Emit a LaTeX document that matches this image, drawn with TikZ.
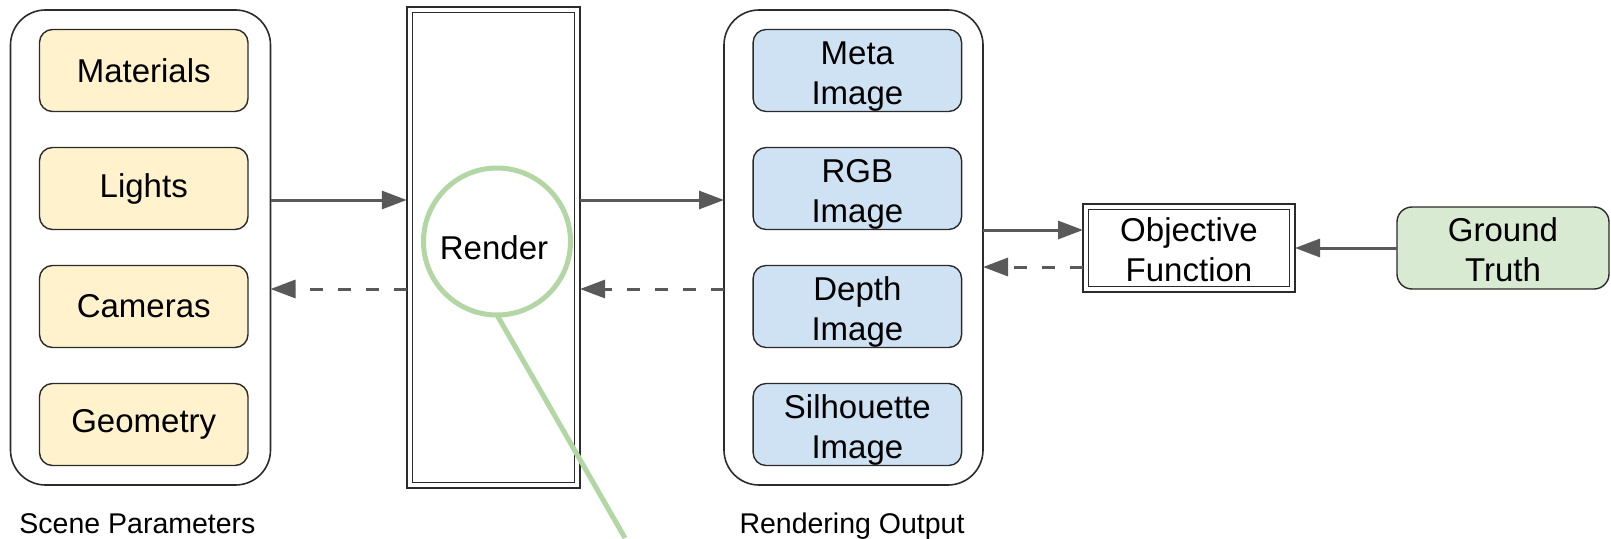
\documentclass[tikz,border=0pt]{standalone}
\usepackage{fontspec}
\setmainfont{Liberation Sans}
\usetikzlibrary{arrows.meta}
\definecolor{boxline}{HTML}{2B2B2B}
\definecolor{arrowgray}{HTML}{595959}
\definecolor{paramfill}{HTML}{FFF2CC}
\definecolor{outfill}{HTML}{CFE2F3}
\definecolor{truthfill}{HTML}{D9EAD3}
\definecolor{lensgreen}{HTML}{B2D6A4}
\newcommand{\firstlift}[1]{\rule{0pt}{#1}}
\begin{document}
\begin{tikzpicture}[x=1pt,y=-1pt,
  container/.style={draw=boxline, line width=1.6pt, rounded corners=35pt,
    minimum width=260pt, minimum height=475pt, inner sep=0pt, outer sep=0pt},
  itembox/.style={draw=boxline, line width=1.4pt, rounded corners=13pt,
    minimum width=208.5pt, minimum height=82pt, inner sep=0pt, outer sep=0pt,
    align=center, font=\fontsize{33}{40}\selectfont},
  param/.style={itembox, fill=paramfill},
  outitem/.style={itembox, fill=outfill},
  dblbox/.style={draw=boxline, line width=1.4pt, double=white, double distance=4pt,
    inner sep=0pt, outer sep=2.75pt, align=center, font=\fontsize{33}{40}\selectfont},
  caption/.style={anchor=base, font=\fontsize{28.5}{34}\selectfont, inner sep=0pt},
  lens/.style={circle, draw=lensgreen, line width=5pt, minimum size=147pt,
    inner sep=0pt, outer sep=0pt},
  lensline/.style={draw=lensgreen, line width=5pt},
  flow/.style={draw=arrowgray, line width=3pt,
    -{Triangle[length=25pt,width=18pt]}},
  flowback/.style={flow, dash pattern=on 13pt off 15pt}
]
\useasboundingbox[fill=white] (0,0) rectangle (1611,538);

% Scene parameters
\node[container] (scene) at (140.5,247.5) {};
\node[param] (mat) at (143.75,70.5) {Materials};
\node[param] (lights) at (143.75,188.5) {Lights};
\node[param] (cams) at (143.75,306.5) {Cameras};
\node[param] (geom) at (143.75,424.5) {Geometry};
\node[caption] (scenelbl) at (137.5,533) {Scene Parameters};

% Render
\node[dblbox, minimum width=167.8pt, minimum height=475.5pt] (render) at (493.4,247.5) {};
\node[lens] (lens) at (497,241.5) {};
\node[font=\fontsize{33}{40}\selectfont, inner sep=0pt] (rendertxt) at (494,248) {Render};
\coordinate (lensend) at (625,538);
\draw[lensline] (lens.south) -- (lensend);

% Rendering output
\node[container, minimum width=259pt] (outbox) at (853.5,247.5) {};
\node[outitem] (meta) at (857.35,70.5) {\firstlift{35pt}Meta\\Image};
\node[outitem] (rgb) at (857.35,188.5) {\firstlift{35pt}RGB\\Image};
\node[outitem] (depth) at (857.35,306.5) {\firstlift{35pt}Depth\\Image};
\node[outitem] (sil) at (857.35,424.5) {\firstlift{35pt}Silhouette\\Image};
\node[caption] (outlbl) at (852,533) {Rendering Output};

% Objective and ground truth
\node[dblbox, minimum width=206.5pt, minimum height=82.5pt] (obj) at (1189,248) {\firstlift{28pt}Objective\\Function};
\node[itembox, fill=truthfill, minimum width=212pt, minimum height=82pt, rounded corners=15pt] (truth) at (1503,248) {\firstlift{28pt}Ground\\Truth};

% connector levels
\coordinate (yA) at (0,200);
\coordinate (yB) at (0,289);
\coordinate (yC) at (0,230);
\coordinate (yD) at (0,267);

\draw[flow] (scene.east |- yA) -- (render.west |- yA);
\draw[flowback] (render.west |- yB) -- (scene.east |- yB);
\draw[flow] (render.east |- yA) -- (outbox.west |- yA);
\draw[flowback] (outbox.west |- yB) -- (render.east |- yB);
\draw[flow] (outbox.east |- yC) -- (obj.west |- yC);
\draw[flowback] (obj.west |- yD) -- (outbox.east |- yD);
\draw[flow] (truth.west) -- (obj.east);
\end{tikzpicture}
\end{document}
